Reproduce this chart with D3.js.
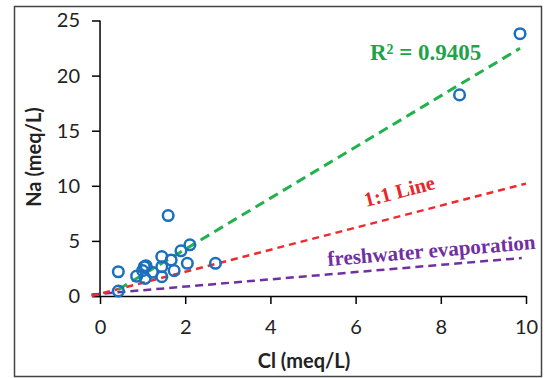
<!DOCTYPE html>
<html>
<head>
<meta charset="utf-8">
<script src="https://cdn.jsdelivr.net/npm/d3@7"></script>
<style>
  body { margin: 0; background: #fff; }
  svg { display: block; }
</style>
</head>
<body>
<svg id="chart" width="547" height="378"></svg>
<script>
// sample values
const clValues = [9.86, 8.44, 1.6, 0.43, 0.43, 0.86, 1.04, 1.08, 1.0, 1.06, 1.23, 1.45, 1.45, 1.45, 1.67, 1.74, 1.9, 2.05, 2.11, 2.71];
const naValues = [23.8, 18.25, 7.3, 2.2, 0.45, 1.8, 2.66, 2.75, 2.3, 1.6, 2.15, 3.57, 2.66, 1.75, 3.27, 2.3, 4.1, 2.97, 4.65, 2.97];

const xTicks = [0, 2, 4, 6, 8, 10];
const yTicks = [0, 5, 10, 15, 20, 25];

// linear trend of the samples (R² = 0.9405)
const trendSlope = 2.32;
const trendIntercept = -0.4;
const trendRange = [0.43, 9.86];
// reference lines: [x0, y0, x1, y1]
const oneToOne = [-0.2, 0, 10, 10.2];
const freshwater = [-0.2, 0.13, 9.9, 3.45];

const svg = d3.select("#chart");

const x = d3.scaleLinear().domain([-0.2, 10]).range([91.5, 526]);
const y = d3.scaleLinear().domain([0, 25]).range([296, 20.5]);

// outer frame
svg.append("rect")
  .attr("x", 14.5).attr("y", 6.5)
  .attr("width", 527).attr("height", 370)
  .attr("fill", "none")
  .attr("stroke", "#444")
  .attr("stroke-width", 1.5);

// axes
const xAxis = svg.append("g")
  .attr("transform", `translate(0,${y(0)})`)
  .call(d3.axisBottom(x).tickValues(xTicks).tickSize(8).tickSizeOuter(0).tickPadding(16));
const yAxis = svg.append("g")
  .attr("transform", `translate(${x(0)},0)`)
  .call(d3.axisLeft(y).tickValues(yTicks).tickSize(8).tickSizeOuter(0).tickPadding(12));

[xAxis, yAxis].forEach((a) => {
  a.select(".domain").attr("stroke", "#000").attr("stroke-width", 1.5);
  a.selectAll(".tick line").attr("stroke", "#000").attr("stroke-width", 1.5);
  a.selectAll("text")
    .attr("fill", "#222")
    .style("font-family", "Lato, 'Open Sans', sans-serif")
    .style("font-size", "20px");
});
yAxis.select(".domain").attr("d", `M0,${y(25)}V${y(0)}`);

// axis titles
svg.append("text")
  .attr("x", 304).attr("y", 368)
  .attr("text-anchor", "middle")
  .style("font-family", "Lato, sans-serif")
  .style("font-weight", "bold")
  .style("font-size", "20px")
  .attr("fill", "#222")
  .text("Cl (meq/L)");
svg.append("text")
  .attr("transform", "translate(41,157) rotate(-90)")
  .attr("text-anchor", "middle")
  .style("font-family", "Lato, sans-serif")
  .style("font-weight", "bold")
  .style("font-size", "20px")
  .attr("fill", "#222")
  .text("Na (meq/L)");

// reference lines
function refLine(seg, color, dash, width) {
  svg.append("line")
    .attr("x1", x(seg[0])).attr("y1", y(seg[1]))
    .attr("x2", x(seg[2])).attr("y2", y(seg[3]))
    .attr("stroke", color)
    .attr("stroke-width", width)
    .attr("stroke-dasharray", dash);
}
refLine(freshwater, "#7030a0", "8,5", 2.5);
refLine(oneToOne, "#ee2a2f", "7,5", 2.5);
refLine([trendRange[0], trendSlope * trendRange[0] + trendIntercept,
         trendRange[1], trendSlope * trendRange[1] + trendIntercept], "#22b14c", "10,6", 3);

// samples
svg.append("g")
  .selectAll("circle")
  .data(clValues.map((c, i) => ({ cl: c, na: naValues[i] })))
  .enter()
  .append("circle")
  .attr("cx", (d) => x(d.cl))
  .attr("cy", (d) => y(d.na))
  .attr("r", 5.3)
  .attr("fill", "none")
  .attr("stroke", "#1a6fbf")
  .attr("stroke-width", 2.5);

// annotations
const serif = "'Liberation Serif', 'Times New Roman', serif";
svg.append("text")
  .attr("x", 370).attr("y", 60)
  .style("font-family", serif)
  .style("font-weight", "bold")
  .style("font-size", "23px")
  .attr("fill", "#1fa34a")
  .text("R² = 0.9405");
svg.append("text")
  .attr("transform", "translate(366,207) rotate(-14.6)")
  .style("font-family", serif)
  .style("font-weight", "bold")
  .style("font-size", "20.5px")
  .attr("fill", "#e8262b")
  .text("1:1 Line");
svg.append("text")
  .attr("transform", "translate(328,266) rotate(-4.7)")
  .style("font-family", serif)
  .style("font-weight", "bold")
  .style("font-size", "21px")
  .attr("fill", "#7030a0")
  .text("freshwater evaporation");
</script>
</body>
</html>
